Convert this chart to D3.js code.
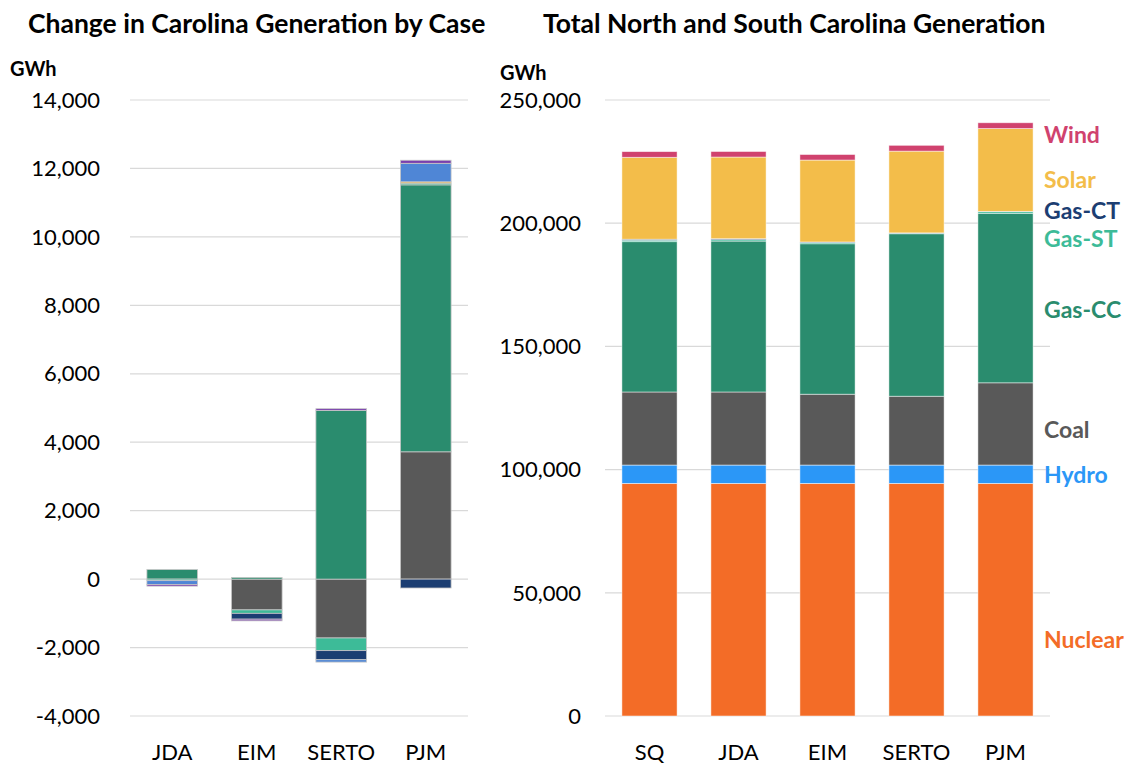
<!DOCTYPE html>
<html>
<head>
<meta charset="utf-8">
<script src="https://cdn.jsdelivr.net/npm/d3@7"></script>
<style>
  body { margin: 0; background: #fff; }
  text { font-family: Lato, "Open Sans", sans-serif; }
</style>
</head>
<body>
<div id="container"></div>
<script>
// Left chart: change vs SQ by case (GWh)
const changeCases = ["JDA", "EIM", "SERTO", "PJM"];
const changeKeys = ["Coal", "Gas-CC", "Gas-ST", "Gas-CT", "Other", "Solar", "Wind"];
const changeCoal  = [0, -900, -1720, 3720];
const changeGasCC = [280, 50, 4930, 7800];
const changeGasST = [-45, -100, -370, 50];
const changeGasCT = [0, -170, -265, -260];
const changeOther = [0, 0, 0, 40];
const changeSolar = [-110, 0, -70, 540];
const changeWind  = [-50, -50, 50, 90];
const changeColors = ["#595959", "#2a8c6e", "#3dbb98", "#1c3e72", "#f2bd4a", "#4f86d6", "#7a3fae"];
const changeTicks = [-4000, -2000, 0, 2000, 4000, 6000, 8000, 10000, 12000, 14000];

// Right chart: total generation (GWh)
const totalCases = ["SQ", "JDA", "EIM", "SERTO", "PJM"];
const totalKeys = ["Nuclear", "Hydro", "Coal", "Gas-CC", "Gas-ST", "Gas-CT", "Solar", "Wind"];
const totalNuclear = [94400, 94400, 94400, 94400, 94400];
const totalHydro   = [7450, 7450, 7450, 7450, 7450];
const totalCoal    = [29650, 29650, 28750, 27930, 33370];
const totalGasCC   = [61000, 61250, 61050, 65930, 68800];
const totalGasST   = [600, 560, 500, 230, 650];
const totalGasCT   = [400, 400, 230, 135, 140];
const totalSolar   = [33250, 33140, 33250, 33180, 33600];
const totalWind    = [2300, 2250, 2250, 2350, 2350];
const totalColors = ["#f36c27", "#2b97f7", "#595959", "#2a8c6e", "#3dbb98", "#1c3e72", "#f3bd4a", "#d0426e"];
const totalTicks = [0, 50000, 100000, 150000, 200000, 250000];

const width = 1136, height = 765;
const svg = d3.select("#container").append("svg")
    .attr("width", width)
    .attr("height", height);

const fmt = d3.format(",");

function rows(cases, keys, cols) {
    return cases.map((c, i) => {
        const r = { case: c };
        keys.forEach((k, j) => r[k] = cols[j][i]);
        return r;
    });
}

function drawChart(opts) {
    const x = d3.scaleBand().domain(opts.cases).range(opts.xRange).paddingInner(opts.pad).paddingOuter(opts.pad / 2);
    const y = d3.scaleLinear().domain(opts.domain).range([716, 100]);

    const g = svg.append("g");

    // gridlines
    g.append("g").selectAll("line")
        .data(opts.ticks)
        .join("line")
        .attr("x1", opts.xRange[0])
        .attr("x2", opts.xRange[1])
        .attr("y1", d => y(d))
        .attr("y2", d => y(d))
        .attr("stroke", "#d9d9d9")
        .attr("stroke-width", 1.2);

    // y axis labels
    g.append("g").selectAll("text")
        .data(opts.ticks)
        .join("text")
        .attr("x", opts.labelX)
        .attr("y", d => y(d))
        .attr("dy", "0.35em")
        .attr("text-anchor", "end")
        .attr("font-size", 22)
        .attr("fill", "#000")
        .text(d => d < 0 ? "-" + fmt(-d) : fmt(d));

    const series = d3.stack()
        .keys(opts.keys)
        .offset(d3.stackOffsetDiverging)(opts.data);

    g.append("g").selectAll("g")
        .data(series)
        .join("g")
        .attr("fill", (d, i) => opts.colors[i])
        .selectAll("rect")
        .data(d => d)
        .join("rect")
        .attr("x", d => x(d.data.case))
        .attr("width", x.bandwidth())
        .attr("y", d => y(Math.max(d[0], d[1])))
        .attr("height", d => Math.abs(y(d[0]) - y(d[1])))
        .attr("stroke", opts.stroke)
        .attr("stroke-width", 0.8);

    // category labels
    g.append("g").selectAll("text")
        .data(opts.cases)
        .join("text")
        .attr("x", d => x(d) + x.bandwidth() / 2)
        .attr("y", 752)
        .attr("dy", "0.35em")
        .attr("text-anchor", "middle")
        .attr("font-size", 22)
        .attr("fill", "#000")
        .text(d => d);

    return { x, y, series };
}

drawChart({
    cases: changeCases,
    keys: changeKeys,
    data: rows(changeCases, changeKeys, [changeCoal, changeGasCC, changeGasST, changeGasCT, changeOther, changeSolar, changeWind]),
    colors: changeColors,
    ticks: changeTicks,
    domain: [-4000, 14000],
    xRange: [130, 468],
    pad: 0.4,
    labelX: 100,
    stroke: "#c8c8c8"
});

drawChart({
    cases: totalCases,
    keys: totalKeys,
    data: rows(totalCases, totalKeys, [totalNuclear, totalHydro, totalCoal, totalGasCC, totalGasST, totalGasCT, totalSolar, totalWind]),
    colors: totalColors,
    ticks: totalTicks,
    domain: [0, 250000],
    xRange: [605, 1050],
    pad: 0.38,
    labelX: 581,
    stroke: "rgba(255,255,255,0.6)"
});

// legend labels on the right
const legendY = { "Wind": 135, "Solar": 180, "Gas-CT": 211, "Gas-ST": 239, "Gas-CC": 310, "Coal": 430, "Hydro": 475, "Nuclear": 640 };
svg.append("g").selectAll("text")
    .data(totalKeys)
    .join("text")
    .attr("x", 1044)
    .attr("y", d => legendY[d])
    .attr("dy", "0.35em")
    .attr("font-size", 23)
    .attr("font-weight", "bold")
    .attr("fill", (d, i) => totalColors[i])
    .text(d => d);

// titles
svg.append("text")
    .attr("x", 28).attr("y", 33)
    .attr("font-size", 26.5).attr("font-weight", "bold")
    .text("Change in Carolina Generation by Case");
svg.append("text")
    .attr("x", 543).attr("y", 33)
    .attr("font-size", 26.5).attr("font-weight", "bold")
    .text("Total North and South Carolina Generation");
svg.append("text")
    .attr("x", 10).attr("y", 76)
    .attr("font-size", 20).attr("font-weight", "bold")
    .text("GWh");
svg.append("text")
    .attr("x", 500).attr("y", 80)
    .attr("font-size", 20).attr("font-weight", "bold")
    .text("GWh");
</script>
</body>
</html>
